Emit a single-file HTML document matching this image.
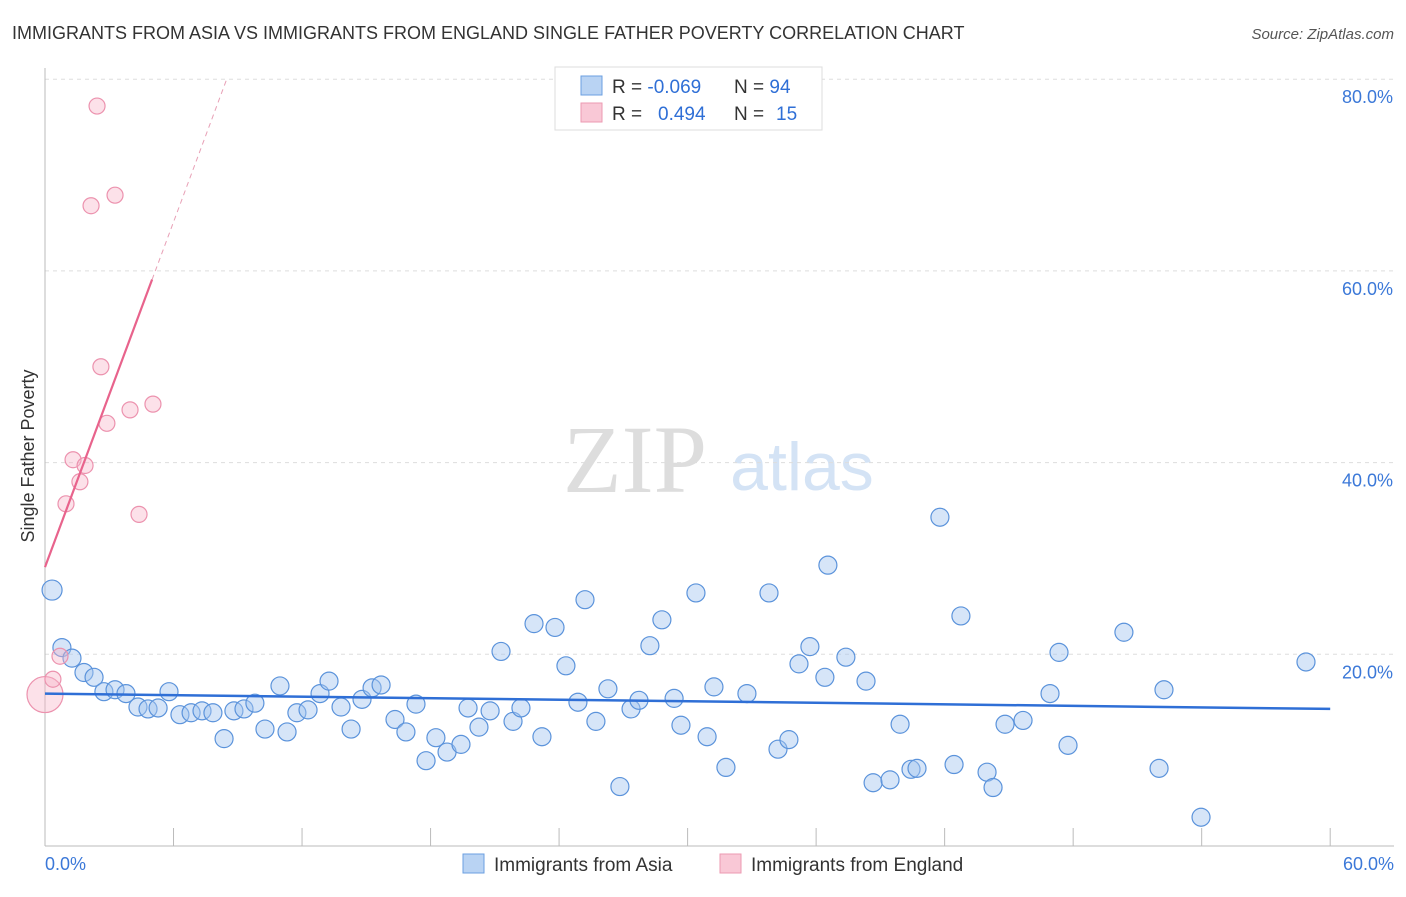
<!DOCTYPE html>
<html><head><meta charset="utf-8"><style>
body{margin:0;background:#fff;font-family:"Liberation Sans",sans-serif;}
svg text{font-family:"Liberation Sans",sans-serif;}
</style></head><body>
<svg id="c" width="1406" height="892" xmlns="http://www.w3.org/2000/svg">
<text x="12" y="39" font-size="18" fill="#333">IMMIGRANTS FROM ASIA VS IMMIGRANTS FROM ENGLAND SINGLE FATHER POVERTY CORRELATION CHART</text>
<text x="1394" y="39" font-size="15" fill="#555" font-style="italic" text-anchor="end">Source: ZipAtlas.com</text>
<text x="635" y="492" font-size="96" fill="#ddd" font-family="Liberation Serif" text-anchor="middle" style="font-family:'Liberation Serif',serif">ZIP</text>
<text x="802" y="490" font-size="68" fill="#d4e3f5" text-anchor="middle">atlas</text>
<g id="grid"></g><g id="axes"></g><g id="pts"></g><g id="trend"></g>
<text transform="translate(34,456) rotate(-90)" font-size="18" fill="#333" text-anchor="middle">Single Father Poverty</text>
<text x="45" y="870" font-size="18" fill="#3b78d8">0.0%</text>
<text x="1394" y="870" font-size="18" fill="#3b78d8" text-anchor="end">60.0%</text>
<g>
<rect x="555" y="67" width="267" height="63" fill="#fff" stroke="#ddd"/>
<rect x="581" y="76" width="21" height="19" fill="#b9d3f3" stroke="#6b9fe0"/>
<rect x="581" y="103" width="21" height="19" fill="#f9c8d6" stroke="#ec9ab2"/>
<text x="612" y="93" font-size="19" fill="#333">R = <tspan fill="#2f6fd6">-0.069</tspan></text>
<text x="734" y="93" font-size="19" fill="#333">N = <tspan fill="#2f6fd6">94</tspan></text>
<text x="612" y="120" font-size="19" fill="#333">R = <tspan fill="#2f6fd6" x="658">0.494</tspan></text>
<text x="734" y="120" font-size="19" fill="#333">N = <tspan fill="#2f6fd6" x="776">15</tspan></text>
</g>
<g>
<rect x="463" y="854" width="21" height="19" fill="#b9d3f3" stroke="#6b9fe0"/>
<text x="494" y="871" font-size="19" fill="#333">Immigrants from Asia</text>
<rect x="720" y="854" width="21" height="19" fill="#f9c8d6" stroke="#ec9ab2"/>
<text x="751" y="871" font-size="19" fill="#333">Immigrants from England</text>
</g>
</svg>
<script>
const asiaX=[0.33,0.79,1.26,1.82,2.29,2.75,3.27,3.78,4.34,4.81,5.28,5.79,6.30,6.82,7.33,7.84,8.36,8.82,9.29,9.80,10.27,10.97,11.30,11.76,12.28,12.84,13.26,13.82,14.29,14.80,15.27,15.69,16.34,16.85,17.32,17.79,18.25,18.77,19.42,19.75,20.26,20.78,21.29,21.85,22.22,22.83,23.20,23.81,24.32,24.88,25.21,25.72,26.28,26.84,27.36,27.73,28.24,28.80,29.37,29.69,30.39,30.91,31.23,31.79,32.77,33.80,34.22,34.73,35.20,35.71,36.41,36.55,37.39,38.33,38.66,39.45,39.92,40.43,40.71,41.78,42.44,42.76,43.98,44.26,44.82,45.66,46.92,47.34,47.76,50.37,52.01,52.24,53.97,58.87];
const asiaY=[26.7,20.7,19.6,18.1,17.6,16.1,16.3,15.9,14.5,14.3,14.4,16.1,13.7,13.9,14.1,13.9,11.2,14.1,14.3,14.9,12.2,16.7,11.9,13.9,14.2,15.9,17.2,14.5,12.2,15.3,16.5,16.8,13.2,11.9,14.8,8.9,11.3,9.8,10.6,14.4,12.4,14.1,20.3,13.0,14.4,23.2,11.4,22.8,18.8,15.0,25.7,13.0,16.4,6.2,14.3,15.2,20.9,23.6,15.4,12.6,26.4,11.4,16.6,8.2,15.9,26.4,10.1,11.1,19.0,20.8,17.6,29.3,19.7,17.2,6.6,6.9,12.7,8.0,8.1,34.3,8.5,24.0,7.7,6.1,12.7,13.1,15.9,20.2,10.5,22.3,8.1,16.3,3.0,19.2];
const engX=[0,0.37,0.70,2.43,2.15,3.27,2.61,1.31,1.87,1.63,0.98,2.89,3.97,5.04,4.39];
const engY=[15.8,17.4,19.8,77.2,66.8,67.9,50.0,40.3,39.7,38.0,35.7,44.1,45.5,46.1,34.6];
const asiaTrend=[15.9,14.3]; // y at x=0 and x=60
const engTrend=[29.1,6.0];   // intercept, slope
const yTicks=[20,40,60,80];
const xTicks=[0,6,12,18,24,30,36,42,48,54,60];
const NS="http://www.w3.org/2000/svg";
const sx=v=>45+v*21.42, sy=v=>846-v*9.585;
function mk(tag,attrs,parent){const e=document.createElementNS(NS,tag);for(const k in attrs)e.setAttribute(k,attrs[k]);document.getElementById(parent).appendChild(e);return e;}
yTicks.forEach(t=>{
 const l=mk('line',{x1:45,x2:1394,y1:sy(t),y2:sy(t),stroke:'#ddd','stroke-dasharray':'4,4'},'grid');
 
 
 const tx=mk('text',{x:1393,y:sy(t)+24,'font-size':18,fill:'#3b78d8','text-anchor':'end'},'grid');
 tx.textContent=t.toFixed(1)+'%';
 
 
});
mk('line',{x1:45,x2:45,y1:68,y2:846,stroke:'#bbb'},'axes');
mk('line',{x1:45,x2:1394,y1:846,y2:846,stroke:'#bbb'},'axes');
xTicks.forEach(t=>{
 const l=mk('line',{x1:sx(t),x2:sx(t),y1:828,y2:846,stroke:'#bbb'},'axes');
 
 
});
asiaX.forEach((x,i)=>{
 const c=mk('circle',{cx:sx(x),cy:sy(asiaY[i]),r:i==0?10:9,fill:'rgba(165,198,240,0.45)',stroke:'#5b93db','stroke-width':1.2},'pts');
 
 
});
engX.forEach((x,i)=>{
 const c=mk('circle',{cx:sx(x),cy:sy(engY[i]),r:i==0?18:8,fill:'rgba(247,180,200,0.4)',stroke:'#ec92ae','stroke-width':1.2},'pts');
 
 
});
const bl=mk('line',{x1:sx(0),y1:sy(asiaTrend[0]),x2:sx(60),y2:sy(asiaTrend[1]),stroke:'#2f6fd6','stroke-width':2.5},'trend');


const xe=(80-engTrend[0])/engTrend[1];
const pl=mk('line',{x1:sx(0),y1:sy(engTrend[0]),x2:sx(5),y2:sy(engTrend[0]+engTrend[1]*5),stroke:'#e8638c','stroke-width':2.2},'trend');


const pd=mk('line',{x1:sx(5),y1:sy(engTrend[0]+engTrend[1]*5),x2:sx(xe),y2:sy(80),stroke:'#e8a0b6','stroke-width':1,'stroke-dasharray':'5,4'},'trend');


</script>
</body></html>
